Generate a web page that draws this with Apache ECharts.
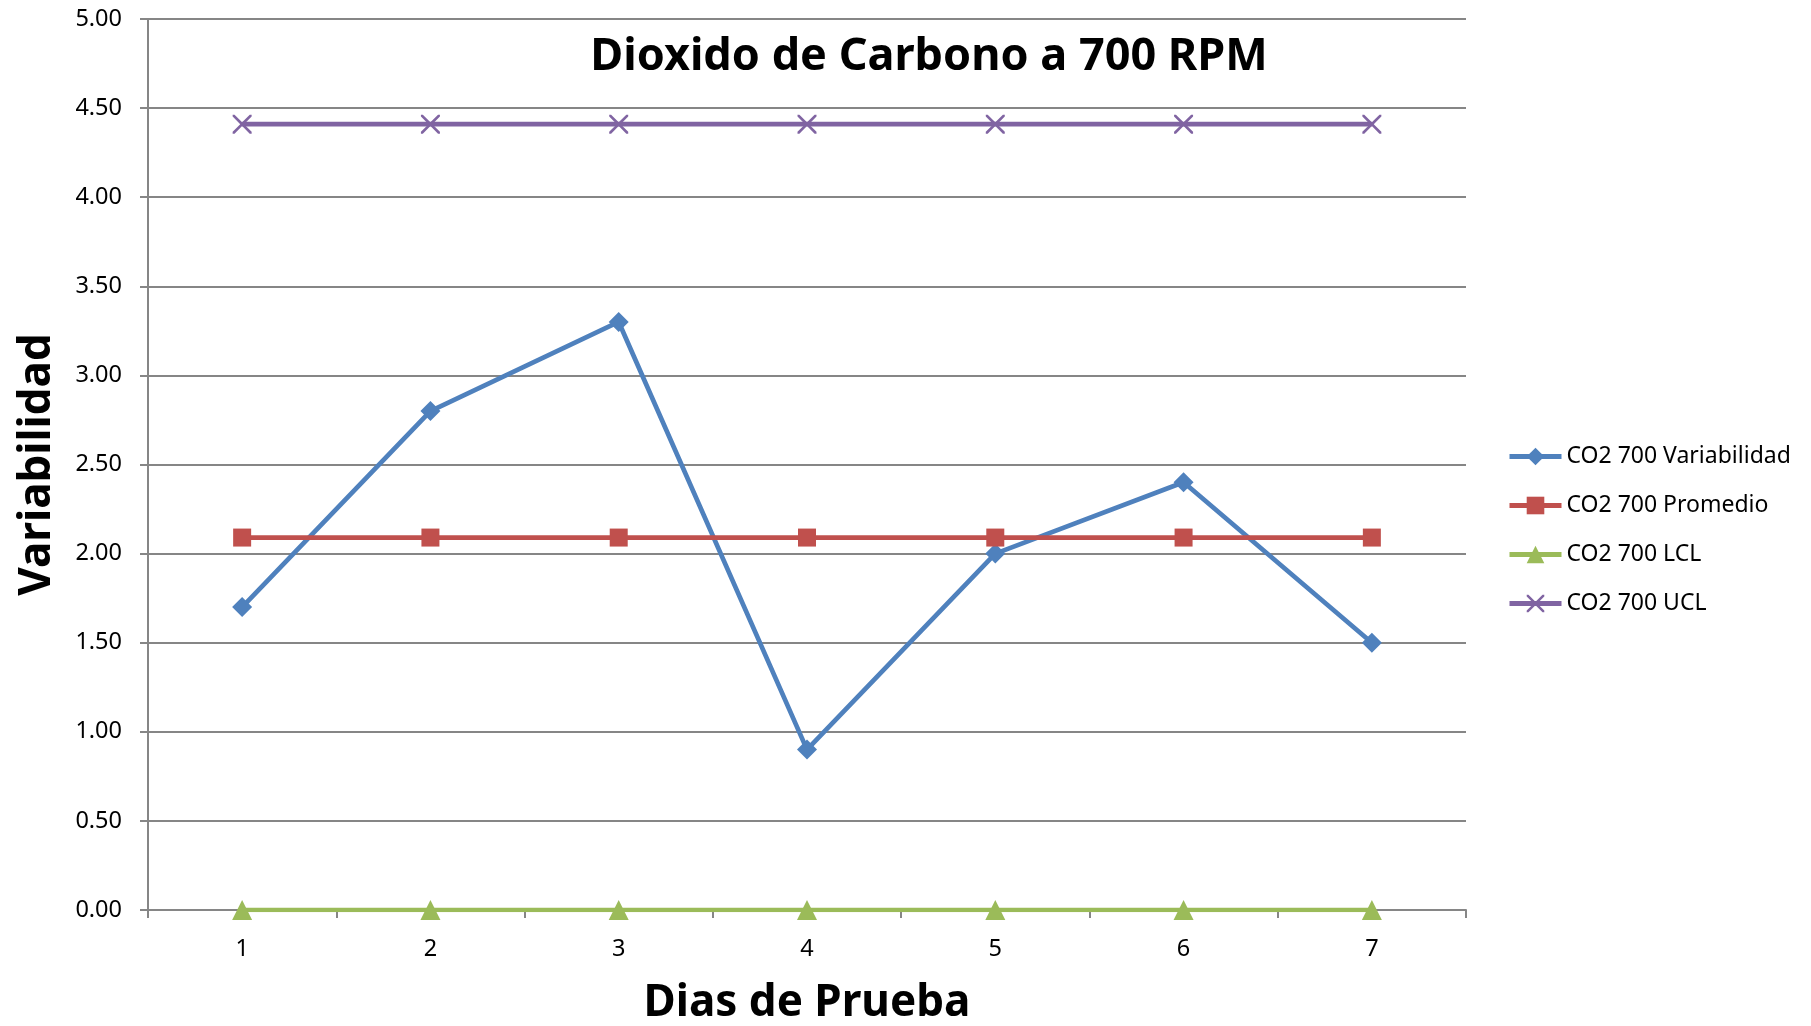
<!DOCTYPE html>
<html>
<head>
<meta charset="utf-8">
<script src="https://cdn.jsdelivr.net/npm/echarts@6/dist/echarts.min.js"></script>
<style>
  html, body { margin: 0; padding: 0; background: #fff; }
  #chart { width: 1811px; height: 1026px; }
</style>
</head>
<body>
<div id="chart"></div>
<script>
const dias = ['1', '2', '3', '4', '5', '6', '7']
const variabilidad = [1.7, 2.8, 3.3, 0.9, 2.0, 2.4, 1.5]
const promedio = [2.09, 2.09, 2.09, 2.09, 2.09, 2.09, 2.09]
const lcl = [0, 0, 0, 0, 0, 0, 0]
const ucl = [4.41, 4.41, 4.41, 4.41, 4.41, 4.41, 4.41]

const font = 'Noto Sans'
const crossPath = 'path://M0,0L1,0L5,4L9,0L10,0L10,1L6,5L10,9L10,10L9,10L5,6L1,10L0,10L0,9L4,5L0,1Z'

const chart = echarts.init(document.getElementById('chart'))

function lineSeries(name, data, color, symbol, size) {
  return {
    name: name,
    type: 'line',
    data: data,
    symbol: symbol,
    symbolSize: size,
    showAllSymbol: true,
    lineStyle: {color: color, width: 4.7},
    itemStyle: {color: color},
    emphasis: {disabled: true},
    animation: false
  }
}

const option = {
  textStyle: {fontFamily: font},
  title: {
    text: 'Dioxido de Carbono a 700 RPM',
    left: 924,
    top: 30,
    textAlign: 'center',
    textStyle: {fontFamily: font, fontSize: 45, fontWeight: 'bold', color: '#000'}
  },
  legend: {
    orient: 'vertical',
    left: 1502,
    top: 440,
    itemWidth: 52,
    itemHeight: 22,
    itemGap: 26,
    lineStyle: {width: 5},
    textStyle: {fontFamily: font, fontSize: 23, color: '#000', lineHeight: 22},
    data: ['CO2 700 Variabilidad', 'CO2 700 Promedio', 'CO2 700 LCL', 'CO2 700 UCL']
  },
  grid: {left: 148, right: 345, top: 19, bottom: 116, outerBoundsMode: 'none', containLabel: false},
  xAxis: {
    type: 'category',
    data: dias,
    boundaryGap: true,
    name: 'Dias de Prueba',
    nameLocation: 'middle',
    nameGap: 71,
    nameTextStyle: {fontFamily: font, fontSize: 44, fontWeight: 'bold', color: '#000'},
    axisLine: {lineStyle: {color: '#868686', width: 2}},
    axisTick: {show: true, length: 8, lineStyle: {color: '#868686', width: 2}},
    axisLabel: {fontFamily: font, fontSize: 23.5, color: '#000', margin: 27},
    splitLine: {show: false}
  },
  yAxis: {
    type: 'value',
    min: 0,
    max: 5,
    interval: 0.5,
    name: 'Variabilidad',
    nameLocation: 'middle',
    nameGap: 89,
    nameTextStyle: {fontFamily: font, fontSize: 44, fontWeight: 'bold', color: '#000'},
    axisLine: {show: true, lineStyle: {color: '#868686', width: 2}},
    axisTick: {show: true, length: 8, lineStyle: {color: '#868686', width: 2}},
    axisLabel: {
      fontFamily: font, fontSize: 23.5, color: '#000', margin: 26,
      formatter: v => v.toFixed(2)
    },
    splitLine: {lineStyle: {color: '#868686', width: 2}}
  },
  series: [
    lineSeries('CO2 700 Variabilidad', variabilidad, '#4F81BD', 'diamond', 20),
    lineSeries('CO2 700 Promedio', promedio, '#C0504D', 'rect', 18),
    lineSeries('CO2 700 LCL', lcl, '#9BBB59', 'triangle', 20),
    lineSeries('CO2 700 UCL', ucl, '#8064A2', crossPath, 19)
  ]
}
chart.setOption(option)
</script>
</body>
</html>
